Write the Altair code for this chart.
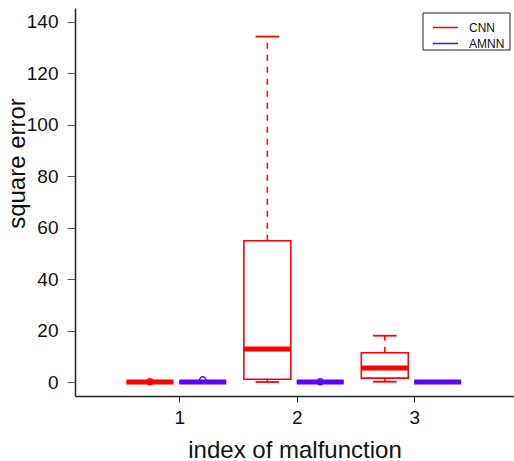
import altair as alt
import pandas as pd

# Box-plot statistics of the square error per malfunction index and model
models = ["CNN", "CNN", "CNN", "AMNN", "AMNN", "AMNN"]
index = [1, 2, 3, 1, 2, 3]
lower = [0.0, 0.0, 0.1, 0.0, 0.0, 0.0]
q1 = [0.0, 1.1, 1.5, 0.0, 0.0, 0.0]
median = [0.0, 12.8, 5.4, 0.0, 0.0, 0.0]
q3 = [0.0, 54.9, 11.4, 0.0, 0.0, 0.0]
upper = [0.0, 134.3, 18.0, 0.0, 0.0, 0.0]

# Outlying points
out_model = ["CNN", "AMNN", "AMNN"]
out_index = [1, 1, 2]
out_value = [0.1, 0.8, 0.1]

legend_names = ["CNN", "AMNN"]
colors = ["#FF0000", "#5E00FF"]

# Each model's box is shifted from its malfunction index; boxes share one width
offset = {"CNN": -0.25, "AMNN": 0.2}
half_box = 0.2
half_cap = 0.1

stats = pd.DataFrame({"model": models, "index": index, "lower": lower, "q1": q1,
                      "median": median, "q3": q3, "upper": upper})
stats["center"] = stats["index"] + stats["model"].map(offset)
stats["x0"] = stats["center"] - half_box
stats["x1"] = stats["center"] + half_box
stats["c0"] = stats["center"] - half_cap
stats["c1"] = stats["center"] + half_cap

outliers = pd.DataFrame({"model": out_model, "index": out_index, "value": out_value})
outliers["center"] = outliers["index"] + outliers["model"].map(offset)

FONT = "Liberation Sans"

color = alt.Color("model:N", scale=alt.Scale(domain=legend_names, range=colors), legend=None)

x_scale = alt.Scale(domain=[0.112, 3.85], nice=False, zero=False)
y_scale = alt.Scale(domain=[-5.44, 145.4], nice=False, zero=False)

x_axis = alt.Axis(values=[1, 2, 3], format="d", grid=False, tickSize=6, tickColor="#333",
                  domainColor="#222", domainWidth=1.5, labelFontSize=19, labelFont=FONT,
                  labelColor="#111", labelPadding=6, title="index of malfunction",
                  titleFont=FONT, titleFontSize=24, titleFontWeight="normal",
                  titleColor="#111", titleY=61, titleBaseline="alphabetic")
y_axis = alt.Axis(values=[0, 20, 40, 60, 80, 100, 120, 140], grid=False, tickSize=8,
                  tickColor="#555", domainColor="#222", domainWidth=1.5,
                  labelFontSize=19, labelFont=FONT, labelColor="#111", labelPadding=9,
                  title="square error", titleFont=FONT, titleFontSize=24,
                  titleFontWeight="normal", titleColor="#111", titleAngle=270,
                  titleAlign="center", titleBaseline="alphabetic", titleX=-51, titleY=155)

base = alt.Chart(stats)

# Dashed whiskers from the box edges to the extremes
whisker_hi = base.mark_rule(strokeWidth=1.5, strokeDash=[6, 6]).encode(
    x=alt.X("center:Q", scale=x_scale, axis=x_axis),
    y=alt.Y("q3:Q", scale=y_scale, axis=y_axis),
    y2="upper:Q",
    color=color,
)
whisker_lo = base.mark_rule(strokeWidth=1.5, strokeDash=[6, 6]).encode(
    x="center:Q", y="lower:Q", y2="q1:Q", color=color
)
cap_hi = base.mark_rule(strokeWidth=1.8).encode(
    x="c0:Q", x2="c1:Q", y="upper:Q", color=color
)
cap_lo = base.mark_rule(strokeWidth=1.8).encode(
    x="c0:Q", x2="c1:Q", y="lower:Q", color=color
)
box = base.mark_rect(filled=False, strokeWidth=1.6).encode(
    x="x0:Q", x2="x1:Q", y="q1:Q", y2="q3:Q", color=color
)
med = base.mark_rule(strokeWidth=5).encode(
    x="x0:Q", x2="x1:Q", y="median:Q", color=color
)
points = alt.Chart(outliers).mark_point(filled=False, size=38, strokeWidth=1.5, opacity=1).encode(
    x="center:Q", y="value:Q", color=color
)

# Legend: framed box with a line sample per model
leg_df = pd.DataFrame({"model": legend_names})
frame = alt.Chart(leg_df.head(1)).mark_rect(fill="white", stroke="#222", strokeWidth=1).encode(
    x=alt.value(348), x2=alt.value(435), y=alt.value(5), y2=alt.value(42)
)
leg_layers = [frame]
for i, name in enumerate(legend_names):
    ypos = 19.5 + 16 * i
    sub = alt.Chart(leg_df).transform_filter(alt.datum.model == name)
    leg_layers.append(sub.mark_rule(strokeWidth=1.5).encode(
        x=alt.value(358), x2=alt.value(383), y=alt.value(ypos), color=color))
    leg_layers.append(sub.mark_text(align="left", baseline="middle", font=FONT,
                                    fontSize=12, color="#111").encode(
        x=alt.value(394), y=alt.value(ypos), text="model:N"))

chart = alt.layer(whisker_hi, whisker_lo, cap_hi, cap_lo, box, med, points, *leg_layers).properties(
    width=439,
    height=388,
    padding={"left": 75, "top": 8, "right": 0, "bottom": 65},
    autosize=alt.AutoSizeParams(type="none"),
    background="white",
).configure_view(stroke=None)

chart.save("out.html", embed_options={"renderer": "svg", "actions": False})
